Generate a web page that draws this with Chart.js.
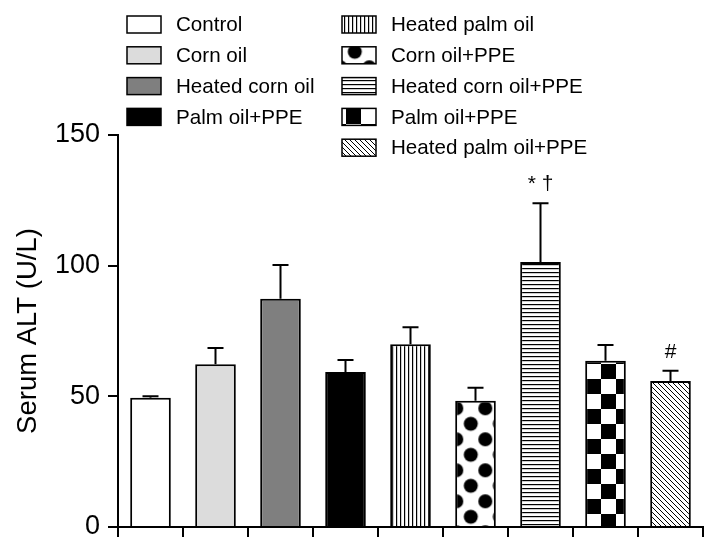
<!DOCTYPE html>
<html>
<head>
<meta charset="utf-8">
<script src="https://cdn.jsdelivr.net/npm/chart.js@4"></script>
<style>
  html, body { margin: 0; padding: 0; background: #fff; }
</style>
</head>
<body>
<canvas id="altChart" width="719" height="553"></canvas>
<script>
// ---- data ----
const groups = ['Control', 'Corn oil', 'Heated corn oil', 'Palm oil+PPE', 'Heated palm oil',
                'Corn oil+PPE', 'Heated corn oil+PPE', 'Palm oil+PPE', 'Heated palm oil+PPE'];
const altMeans = [49.5, 62.3, 87.3, 59.3, 69.9, 48.3, 101.4, 63.6, 55.9];
const altErr   = [0.5, 6.2, 13.0, 4.6, 6.5, 5.0, 22.5, 6.0, 3.9];
const sigMarks = ['', '', '', '', '', '', '* \u2020', '', '#'];
const yTicks   = [0, 50, 100, 150];

const FONT = '"Liberation Sans", Arial, sans-serif';

// ---- fill patterns ----
function makeTile(w, h, draw) {
    const c = document.createElement('canvas');
    c.width = w; c.height = h;
    const g = c.getContext('2d');
    g.fillStyle = '#fff';
    g.fillRect(0, 0, w, h);
    g.fillStyle = '#000';
    g.strokeStyle = '#000';
    draw(g, w, h);
    return c;
}

function pattern(tile, dx, dy) {
    const p = document.createElement('canvas').getContext('2d').createPattern(tile, 'repeat');
    if (dx || dy) p.setTransform(new DOMMatrix().translate(dx, dy));
    return p;
}

const vLines = pattern(makeTile(4, 4, (g) => { g.fillRect(0, 0, 1.2, 4); }));
const hLines = pattern(makeTile(4, 4, (g) => { g.fillRect(0, 0, 4, 1.2); }));
const dots = pattern(makeTile(29, 31, (g, w, h) => {
    [[0, 0], [w, 0], [0, h], [w, h], [w / 2, h / 2]].forEach(([x, y]) => {
        g.beginPath(); g.arc(x, y, 7, 0, Math.PI * 2); g.fill();
    });
}), 21.3, 5.3);
const checks = pattern(makeTile(30, 30, (g) => {
    g.fillRect(0, 0, 15, 15); g.fillRect(15, 15, 15, 15);
}), 16, 19);
const diag = pattern(makeTile(5, 5, (g) => {
    g.lineWidth = 1;
    g.beginPath();
    g.moveTo(-1, -1); g.lineTo(6, 6);
    g.moveTo(-1, 4); g.lineTo(1, 6);
    g.moveTo(4, -1); g.lineTo(6, 1);
    g.stroke();
}));

const fills = ['#ffffff', '#dcdcdc', '#7f7f7f', '#000000', vLines, dots, hLines, checks, diag];

// ---- plugins ----
const errorBars = {
    id: 'errorBars',
    afterDatasetsDraw(chart) {
        const { ctx, scales: { y } } = chart;
        const bars = chart.getDatasetMeta(0).data;
        ctx.save();
        ctx.strokeStyle = '#000';
        ctx.lineWidth = 2;
        ctx.fillStyle = '#000';
        ctx.font = '21px ' + FONT;
        ctx.textAlign = 'center';
        ctx.textBaseline = 'middle';
        bars.forEach((bar, i) => {
            const base = y.getPixelForValue(altMeans[i]);
            const top = y.getPixelForValue(altMeans[i] + altErr[i]);
            ctx.beginPath();
            ctx.moveTo(bar.x, base); ctx.lineTo(bar.x, top);
            ctx.moveTo(bar.x - 8, top); ctx.lineTo(bar.x + 8, top);
            ctx.stroke();
            if (sigMarks[i]) ctx.fillText(sigMarks[i], bar.x, top - 19);
        });
        ctx.restore();
    }
};

const sideLegend = {
    id: 'sideLegend',
    afterDraw(chart) {
        const ctx = chart.ctx;
        const cols = [{ box: 127, text: 176, rows: 4 }, { box: 342, text: 391, rows: 5 }];
        let k = 0;
        ctx.save();
        ctx.font = '20.6px ' + FONT;
        ctx.textBaseline = 'middle';
        cols.forEach(col => {
            for (let r = 0; r < col.rows; r++, k++) {
                const cy = 24.5 + r * 30.8;
                ctx.fillStyle = fills[k];
                ctx.fillRect(col.box, cy - 8.5, 34, 17);
                ctx.strokeStyle = '#000';
                ctx.lineWidth = 1.5;
                ctx.strokeRect(col.box, cy - 8.5, 34, 17);
                ctx.fillStyle = '#000';
                ctx.fillText(groups[k], col.text, cy + 1);
            }
        });
        ctx.restore();
    }
};

// ---- chart ----
new Chart(document.getElementById('altChart'), {
    type: 'bar',
    data: {
        labels: groups,
        datasets: [{
            data: altMeans,
            backgroundColor: fills,
            borderColor: '#000',
            borderWidth: 2,
            borderSkipped: 'start',
            barPercentage: 0.625,
            categoryPercentage: 1
        }]
    },
    options: {
        responsive: false,
        animation: false,
        layout: { padding: { top: 135, right: 16, left: 0, bottom: 0 } },
        plugins: { legend: { display: false }, tooltip: { enabled: false } },
        scales: {
            x: {
                offset: true,
                grid: { offset: true, drawOnChartArea: false, color: '#000', lineWidth: 2, tickLength: 10 },
                border: { color: '#000', width: 2 },
                ticks: { display: false },
                afterFit: s => { s.height = 26; }
            },
            y: {
                min: 0,
                max: 150,
                afterBuildTicks: s => { s.ticks = yTicks.map(v => ({ value: v })); },
                grid: { drawOnChartArea: false, color: '#000', lineWidth: 2, tickLength: 10 },
                border: { color: '#000', width: 2 },
                ticks: { color: '#000', padding: 8, font: { family: FONT, size: 27 } },
                title: {
                    display: true,
                    text: 'Serum ALT (U/L)',
                    color: '#000',
                    padding: { top: 12, bottom: 0 },
                    font: { family: FONT, size: 27.5 }
                },
                afterFit: s => { s.width = 118; }
            }
        }
    },
    plugins: [errorBars, sideLegend]
});
</script>
</body>
</html>
